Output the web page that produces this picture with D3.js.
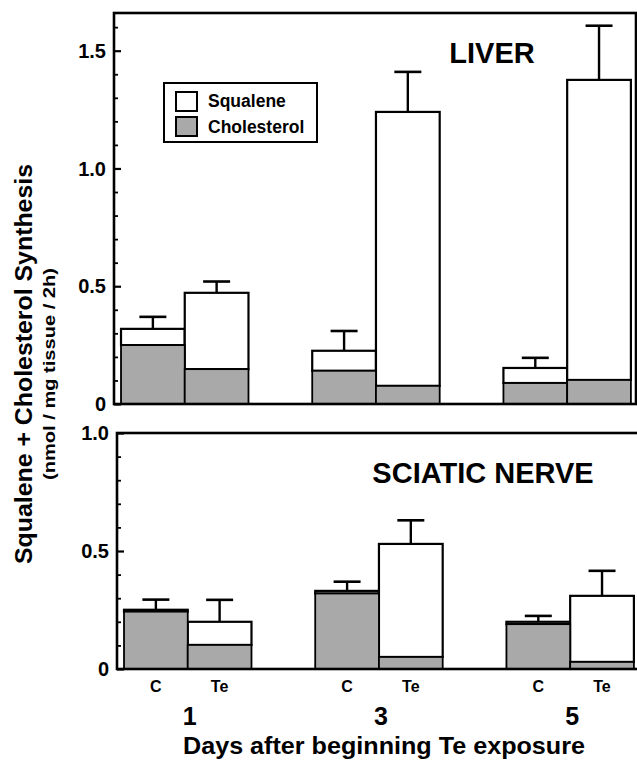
<!DOCTYPE html>
<html>
<head>
<meta charset="utf-8">
<script src="https://cdn.jsdelivr.net/npm/d3@7"></script>
<style>
  body { margin: 0; background: #fff; }
  text { font-family: "Liberation Sans", Arial, sans-serif; font-weight: bold; fill: #000; }
</style>
</head>
<body>
<div id="chart"></div>
<script>
// days and treatments
const days = [1, 3, 5];
const groups = ["C", "Te"];

// liver (nmol / mg tissue / 2h)
const liverCholC = [0.25, 0.141, 0.089];
const liverCholTe = [0.148, 0.077, 0.102];
const liverSqualC = [0.069, 0.085, 0.064];
const liverSqualTe = [0.324, 1.163, 1.274];
const liverErrC = [0.051, 0.084, 0.043];
const liverErrTe = [0.048, 0.17, 0.23];

// sciatic nerve
const nerveCholC = [0.243, 0.32, 0.19];
const nerveCholTe = [0.102, 0.051, 0.03];
const nerveSqualC = [0.008, 0.011, 0.01];
const nerveSqualTe = [0.098, 0.479, 0.28];
const nerveErrC = [0.043, 0.039, 0.025];
const nerveErrTe = [0.093, 0.10, 0.106];

const majorTicks = [0, 0.5, 1.0, 1.5];

const width = 637;
const height = 765;
const cholColor = "#a9a9a9";

const svg = d3.select("#chart")
  .append("svg")
  .attr("width", width)
  .attr("height", height);

// build rows for one panel
function rows(cholC, cholTe, squalC, squalTe, errC, errTe) {
  const out = [];
  days.forEach((day, i) => {
    out.push({ day: day, g: "C", chol: cholC[i], squal: squalC[i], err: errC[i] });
    out.push({ day: day, g: "Te", chol: cholTe[i], squal: squalTe[i], err: errTe[i] });
  });
  return out;
}

function drawPanel(data, opts) {
  const x = d3.scaleLinear().domain([0.26, 5.72]).range([opts.left, opts.right]);
  const y = d3.scaleLinear().domain([0, opts.max]).range([opts.bottom, opts.top]);
  const barW = x(1) - x(1 - 2 / 3);
  const g = svg.append("g");

  // bar left edge: C on the left of the day, Te on the right
  const bx = d => d.g === "C" ? x(d.day) - barW : x(d.day);

  // error bars first so the bar outline sits on top
  g.selectAll(".err")
    .data(data)
    .enter()
    .append("line")
    .attr("x1", d => bx(d) + barW / 2)
    .attr("x2", d => bx(d) + barW / 2)
    .attr("y1", d => y(d.chol + d.squal))
    .attr("y2", d => y(d.chol + d.squal + d.err))
    .attr("stroke", "#000")
    .attr("stroke-width", 2.4);

  g.selectAll(".cap")
    .data(data)
    .enter()
    .append("line")
    .attr("x1", d => bx(d) + barW / 2 - 13.5)
    .attr("x2", d => bx(d) + barW / 2 + 13.5)
    .attr("y1", d => y(d.chol + d.squal + d.err))
    .attr("y2", d => y(d.chol + d.squal + d.err))
    .attr("stroke", "#000")
    .attr("stroke-width", 2.6);

  // squalene (white, stacked on top)
  g.selectAll(".squal")
    .data(data)
    .enter()
    .append("rect")
    .attr("x", bx)
    .attr("y", d => y(d.chol + d.squal))
    .attr("width", barW)
    .attr("height", d => y(d.chol) - y(d.chol + d.squal))
    .attr("fill", "#fff")
    .attr("stroke", "#000")
    .attr("stroke-width", 2.2);

  // cholesterol (gray)
  g.selectAll(".chol")
    .data(data)
    .enter()
    .append("rect")
    .attr("x", bx)
    .attr("y", d => y(d.chol))
    .attr("width", barW)
    .attr("height", d => y(0) - y(d.chol))
    .attr("fill", cholColor)
    .attr("stroke", "#000")
    .attr("stroke-width", 1.8);

  // frame
  g.append("rect")
    .attr("x", opts.left)
    .attr("y", opts.top)
    .attr("width", opts.right - opts.left)
    .attr("height", opts.bottom - opts.top)
    .attr("fill", "none")
    .attr("stroke", "#000")
    .attr("stroke-width", 2.6);

  // minor ticks inward
  const minor = d3.range(0, opts.max + 1e-9, 0.1).filter(v => Math.abs(v * 2 - Math.round(v * 2)) > 1e-6);
  g.append("g")
    .attr("transform", `translate(${opts.left},0)`)
    .call(d3.axisRight(y).tickValues(minor).tickSize(4).tickFormat(""))
    .call(a => a.select(".domain").remove())
    .call(a => a.selectAll("line").attr("stroke-width", 1.8));

  // major ticks and labels
  const major = majorTicks.filter(v => v <= opts.max);
  const ax = g.append("g")
    .attr("transform", `translate(${opts.left},0)`)
    .call(d3.axisRight(y).tickValues(major).tickSize(7).tickFormat(""));
  ax.select(".domain").remove();
  ax.selectAll("line").attr("stroke-width", 2.2);

  g.selectAll(".ylab")
    .data(major)
    .enter()
    .append("text")
    .attr("x", opts.left - 8)
    .attr("y", d => y(d))
    .attr("dy", "0.36em")
    .attr("text-anchor", "end")
    .style("font-size", "20px")
    .text(d => d === 0 ? "0" : d3.format(".1f")(d));

  // panel name
  g.append("text")
    .attr("x", opts.nameX)
    .attr("y", opts.nameY)
    .attr("text-anchor", "middle")
    .style("font-size", "29px")
    .text(opts.name);

  return { x, y, barW, bx };
}

const liver = drawPanel(rows(liverCholC, liverCholTe, liverSqualC, liverSqualTe, liverErrC, liverErrTe), {
  left: 114, right: 636, top: 13, bottom: 404, max: 1.66,
  name: "LIVER", nameX: 492, nameY: 63
});

const nerve = drawPanel(rows(nerveCholC, nerveCholTe, nerveSqualC, nerveSqualTe, nerveErrC, nerveErrTe), {
  left: 117, right: 639, top: 433, bottom: 669, max: 1.0,
  name: "SCIATIC NERVE", nameX: 483, nameY: 483
});

// group labels under the bottom panel
const groupLabels = rows(nerveCholC, nerveCholTe, nerveSqualC, nerveSqualTe, nerveErrC, nerveErrTe);
svg.selectAll(".glab")
  .data(groupLabels)
  .enter()
  .append("text")
  .attr("x", d => nerve.bx(d) + nerve.barW / 2)
  .attr("y", 692)
  .attr("text-anchor", "middle")
  .style("font-size", "16px")
  .text(d => d.g);

svg.selectAll(".dlab")
  .data(days)
  .enter()
  .append("text")
  .attr("x", d => nerve.x(d) + 2)
  .attr("y", 725)
  .attr("text-anchor", "middle")
  .style("font-size", "25px")
  .text(d => d);

svg.append("text")
  .attr("x", 384)
  .attr("y", 754)
  .attr("text-anchor", "middle")
  .attr("textLength", 402)
  .attr("lengthAdjust", "spacingAndGlyphs")
  .style("font-size", "24px")
  .text("Days after beginning Te exposure");

// y title
svg.append("text")
  .attr("transform", "translate(32,364) rotate(-90)")
  .attr("text-anchor", "middle")
  .attr("textLength", 400)
  .attr("lengthAdjust", "spacingAndGlyphs")
  .style("font-size", "23px")
  .text("Squalene + Cholesterol Synthesis");

svg.append("text")
  .attr("transform", "translate(55,374) rotate(-90)")
  .attr("text-anchor", "middle")
  .attr("textLength", 212)
  .attr("lengthAdjust", "spacingAndGlyphs")
  .style("font-size", "17px")
  .text("(nmol / mg tissue / 2h)");

// legend
const legend = svg.append("g").attr("transform", "translate(164,83)");
legend.append("rect")
  .attr("width", 153)
  .attr("height", 59)
  .attr("fill", "#fff")
  .attr("stroke", "#000")
  .attr("stroke-width", 2);

const legendItems = [
  { name: "Squalene", fill: "#fff" },
  { name: "Cholesterol", fill: cholColor }
];
legend.selectAll(".sw")
  .data(legendItems)
  .enter()
  .append("rect")
  .attr("x", 12)
  .attr("y", (d, i) => 9 + i * 25)
  .attr("width", 21)
  .attr("height", 19)
  .attr("fill", d => d.fill)
  .attr("stroke", "#000")
  .attr("stroke-width", 2);

legend.selectAll(".lt")
  .data(legendItems)
  .enter()
  .append("text")
  .attr("x", 44)
  .attr("y", (d, i) => 24 + i * 26)
  .style("font-size", "17.5px")
  .text(d => d.name);
</script>
</body>
</html>
